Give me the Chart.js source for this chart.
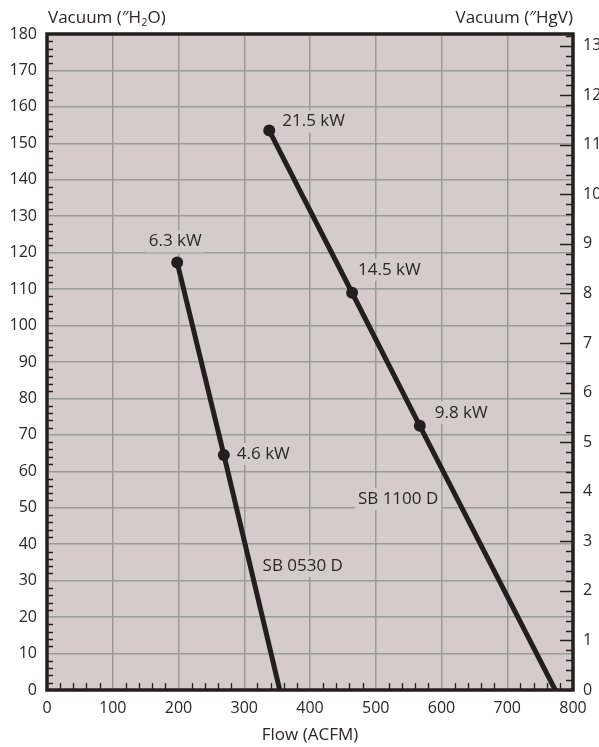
<!DOCTYPE html>
<html><head><meta charset="utf-8">
<script src="https://cdn.jsdelivr.net/npm/chart.js@4"></script>
<style>html,body{margin:0;padding:0;background:#fff;}#wrap{width:599px;height:747px;position:relative;}</style>
</head><body><div id="wrap"><canvas id="c" width="599" height="747"></canvas></div>
<script>
// ---- data ----
const seriesNames = ['SB 0530 D', 'SB 1100 D'];
const flowSB0530 = [198, 269, 354];
const vacSB0530  = [117.3, 64.5, 0];
const kwSB0530   = ['6.3 kW', '4.6 kW', ''];
const flowSB1100 = [338, 464, 567, 773];
const vacSB1100  = [153.5, 109, 72.5, 0];
const kwSB1100   = ['21.5 kW', '14.5 kW', '9.8 kW', ''];
const nameAnchorFlow = [389, 534];
const nameAnchorVac  = [34, 52.4];
const xTickMax = 800, xTickStep = 100;
const yTickMax = 180, yTickStep = 10;
const inH2OperInHg = 13.6;

// ---- label placement (style) ----
const labelOffsets = [
  [[-2,-21,'center'], [13,-1,'left'], null],
  [[13,-9,'left'], [6,-23,'left'], [15,-13,'left'], null]
];

const FONT = '"Open Sans", "DejaVu Sans", sans-serif';
const TICK_SIZE = 16, TEXT_SIZE = 17;
const TXT = '#2b2627';
const BG = '#d5cbcc';
const LINE = '#231f20';
const GRID = '#9c9a9b';

const toPts = (xs, ys) => xs.map((x, i) => ({x, y: ys[i]}));

const decor = {
  id: 'decor',
  beforeDraw(chart) {
    const {ctx, chartArea: a} = chart;
    ctx.save();
    ctx.fillStyle = BG;
    ctx.fillRect(a.left, a.top, a.right - a.left, a.bottom - a.top);
    ctx.restore();
  },
  afterDatasetsDraw(chart) {
    const {ctx, chartArea: a, scales} = chart;
    const xs = scales.x, ys = scales.y, y2 = scales.y2;
    ctx.save();
    ctx.strokeStyle = LINE;
    ctx.lineWidth = 1.3;
    ctx.beginPath();
    for (let v = 20; v < xTickMax; v += 20) {
      if (v % 100 === 0) continue;
      const px = Math.round(xs.getPixelForValue(v)) + 0.5;
      ctx.moveTo(px, a.bottom); ctx.lineTo(px, a.bottom - 7);
    }
    for (let v = 2; v < yTickMax; v += 2) {
      if (v % 10 === 0) continue;
      const py = Math.round(ys.getPixelForValue(v)) + 0.5;
      ctx.moveTo(a.left, py); ctx.lineTo(a.left + 6, py);
    }
    for (let k = 1; k <= 66; k++) {
      const v = k / 5;
      if (v > y2.max) break;
      const py = Math.round(y2.getPixelForValue(v)) + 0.5;
      const len = (k % 5 === 0) ? 13 : 7;
      ctx.moveTo(a.right, py); ctx.lineTo(a.right - len, py);
    }
    ctx.stroke();
    ctx.lineWidth = 3.5;
    ctx.strokeRect(a.left, a.top, a.right - a.left, a.bottom - a.top);
    ctx.restore();

    ctx.save();
    ctx.font = TEXT_SIZE + 'px ' + FONT;
    ctx.textBaseline = 'middle';
    const labels = [kwSB0530, kwSB1100];
    chart.data.datasets.forEach((ds, di) => {
      const meta = chart.getDatasetMeta(di);
      meta.data.forEach((el, i) => {
        const t = labels[di][i];
        const off = labelOffsets[di][i];
        if (!t || !off) return;
        const w = ctx.measureText(t).width;
        const x = el.x + off[0];
        const y = el.y + off[1];
        const left = off[2] === 'center' ? x - w / 2 : x;
        ctx.fillStyle = BG;
        ctx.fillRect(left - 3, y - 11, w + 6, 22);
        ctx.fillStyle = TXT;
        ctx.textAlign = 'left';
        ctx.fillText(t, left, y);
      });
      const nx = xs.getPixelForValue(nameAnchorFlow[di]);
      const ny = ys.getPixelForValue(nameAnchorVac[di]);
      const nm = seriesNames[di];
      const w = ctx.measureText(nm).width;
      ctx.fillStyle = BG;
      ctx.fillRect(nx - w / 2 - 3, ny - 11, w + 6, 22);
      ctx.fillStyle = TXT;
      ctx.textAlign = 'center';
      ctx.fillText(nm, nx, ny);
    });
    ctx.restore();

    ctx.save();
    ctx.fillStyle = TXT;
    ctx.textBaseline = 'alphabetic';
    ctx.font = TEXT_SIZE + 'px ' + FONT;
    const base = 23;
    let x = a.left + 1;
    ctx.textAlign = 'left';
    const p1 = 'Vacuum (\u2033H';
    ctx.fillText(p1, x, base); x += ctx.measureText(p1).width;
    ctx.font = '11px ' + FONT;
    ctx.fillText('2', x, base + 3); x += ctx.measureText('2').width;
    ctx.font = TEXT_SIZE + 'px ' + FONT;
    ctx.fillText('O)', x, base);
    ctx.textAlign = 'right';
    ctx.fillText('Vacuum (\u2033HgV)', a.right, base);
    ctx.restore();
  }
};

new Chart(document.getElementById('c'), {
  type: 'scatter',
  data: {
    datasets: [
      { label: seriesNames[0], data: toPts(flowSB0530, vacSB0530), showLine: true,
        borderColor: LINE, backgroundColor: LINE, borderWidth: 5,
        pointBorderWidth: 0, pointRadius: [6, 6, 0], pointHoverRadius: 0, yAxisID: 'y' },
      { label: seriesNames[1], data: toPts(flowSB1100, vacSB1100), showLine: true,
        borderColor: LINE, backgroundColor: LINE, borderWidth: 5,
        pointBorderWidth: 0, pointRadius: [6, 6, 6, 0], pointHoverRadius: 0, yAxisID: 'y' }
    ]
  },
  options: {
    responsive: false, animation: false, devicePixelRatio: 1,
    layout: { padding: { top: 34, left: 0, right: 0, bottom: 0 } },
    plugins: { legend: { display: false }, tooltip: { enabled: false } },
    scales: {
      x: {
        type: 'linear', min: 0, max: xTickMax,
        ticks: { stepSize: xTickStep, color: TXT, font: { family: FONT, size: TICK_SIZE }, padding: 9, maxRotation: 0 },
        grid: { color: GRID, lineWidth: 1.5, drawTicks: false },
        border: { display: false },
        title: { display: true, text: 'Flow (ACFM)', color: TXT, font: { family: FONT, size: TEXT_SIZE }, padding: { top: 0, bottom: 2 } },
        afterFit(s) { s.height = 57; }
      },
      y: {
        position: 'left', min: 0, max: yTickMax,
        ticks: { stepSize: yTickStep, color: TXT, font: { family: FONT, size: TICK_SIZE }, padding: 10 },
        grid: { color: GRID, lineWidth: 1.5, drawTicks: false },
        border: { display: false },
        afterFit(s) { s.width = 47; }
      },
      y2: {
        position: 'right', min: 0, max: yTickMax / inH2OperInHg,
        ticks: { stepSize: 1, includeBounds: false, color: TXT, font: { family: FONT, size: TICK_SIZE }, padding: 10 },
        grid: { display: false, drawTicks: false },
        border: { display: false },
        afterFit(s) { s.width = 26; }
      }
    }
  },
  plugins: [decor]
});
</script></body></html>
